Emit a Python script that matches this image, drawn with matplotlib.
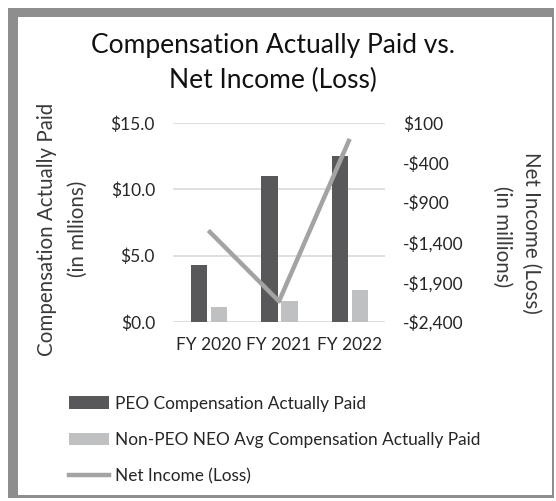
import matplotlib
matplotlib.use("Agg")
import matplotlib.pyplot as plt
from matplotlib.patches import Patch, Rectangle
from matplotlib.lines import Line2D
import numpy as np

years = ["FY 2020", "FY 2021", "FY 2022"]
peo_cap = [4.3, 11.0, 12.5]
non_peo_cap = [1.15, 1.55, 2.4]
net_income = [-1250, -2140, -100]

left_ticks = [0, 5, 10, 15]
right_ticks = [100, -400, -900, -1400, -1900, -2400]

DARK = "#58585a"
LIGHT = "#bfc0c2"
LINE = "#a3a3a3"
INK = "#262626"
GRID = "#d9d9d9"
FONT = "Lato"

plt.rcParams["font.family"] = [FONT, "DejaVu Sans"]

fig = plt.figure(figsize=(5.56, 5.01), dpi=100)
fig.patch.set_facecolor("white")

# frame with a soft shadow on the top/left
fig.patches.append(Rectangle((8 / 556, 3 / 501), 546 / 556, 490 / 501,
                             transform=fig.transFigure, facecolor="#8e8e8e",
                             edgecolor="none", zorder=-2))
fig.patches.append(Rectangle((18 / 556, 6 / 501), 534 / 556, 478 / 501,
                             transform=fig.transFigure, facecolor="white",
                             edgecolor="none", zorder=-1))

ax = fig.add_axes([173 / 556, 1 - 322 / 501, 212 / 556, 199 / 501])
ax.set_facecolor("none")
x = np.arange(len(years))
w = 0.23
ax.bar(x - 0.135, peo_cap, w, color=DARK, zorder=2)
ax.bar(x + 0.15, non_peo_cap, w, color=LIGHT, zorder=2)
ax.set_xlim(-0.5, 2.5)
ax.set_ylim(0, 15)
ax.set_yticks(left_ticks)
ax.set_yticklabels([f"${v:.1f}" for v in left_ticks])
ax.set_xticks(x)
ax.set_xticklabels(years)
ax.grid(axis="y", color=GRID, linewidth=1.2, zorder=0)
ax.tick_params(length=0, labelsize=12.5, colors=INK, pad=13)
ax.tick_params(axis="x", pad=11)
for s in ax.spines.values():
    s.set_visible(False)

ax2 = ax.twinx()
ax2.plot(x, net_income, color=LINE, linewidth=3.2, solid_capstyle="butt",
         zorder=3)
ax2.set_ylim(-2400, 100)
ax2.set_yticks(right_ticks)
ax2.set_yticklabels([f"-${abs(v):,}" if v < 0 else f"${v:,}"
                     for v in right_ticks])
ax2.tick_params(length=0, labelsize=12.5, colors=INK, pad=13)
for s in ax2.spines.values():
    s.set_visible(False)

fig.text(273 / 556, 1 - 45 / 501, "Compensation Actually Paid vs.",
         ha="center", va="center", fontsize=19, color="#111111")
fig.text(273 / 556, 1 - 80 / 501, "Net Income (Loss)",
         ha="center", va="center", fontsize=19, color="#111111")

lab = dict(ha="center", va="center", fontsize=14.8, color="#3a3a3a")
fig.text(47 / 556, 1 - 229 / 501, "Compensation Actually Paid",
         rotation=90, **lab)
fig.text(78 / 556, 1 - 229 / 501, "(in mllions)", rotation=90, **lab)
fig.text(531 / 556, 1 - 233 / 501, "Net Income (Loss)", rotation=270, **lab)
fig.text(502 / 556, 1 - 237 / 501, "(in millions)", rotation=270, **lab)

handles = [Patch(facecolor=DARK, edgecolor="none"),
           Patch(facecolor=LIGHT, edgecolor="none"),
           Line2D([], [], color=LINE, linewidth=3.2)]
labels = ["PEO Compensation Actually Paid",
          "Non-PEO NEO Avg Compensation Actually Paid",
          "Net Income (Loss)"]
fig.legend(handles, labels, loc="upper left",
           bbox_to_anchor=(53 / 556, 1 - 380 / 501), frameon=False,
           fontsize=12.4, handlelength=2.35, handletextpad=0.35,
           labelspacing=1.18, labelcolor=INK)

fig.savefig("out.png", dpi=100, facecolor="white")
